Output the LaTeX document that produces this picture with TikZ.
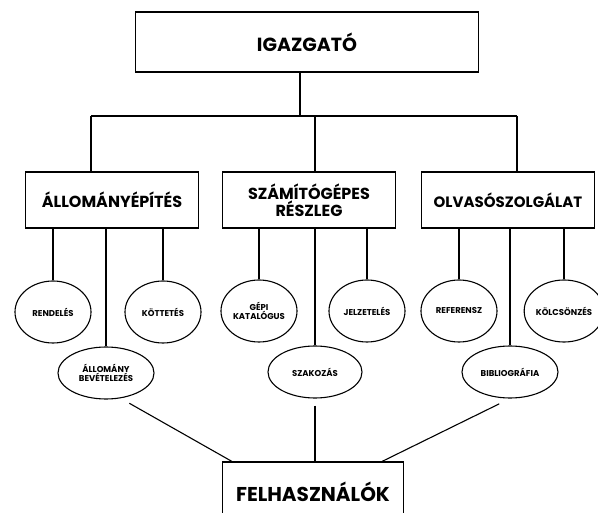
\documentclass[tikz,border=0pt]{standalone}
\usepackage{fontspec}
\setmainfont{Poppins}
\usepackage{tikz}
\usetikzlibrary{shapes.geometric}

\begin{document}
\begin{tikzpicture}[
    x=1pt, y=-1pt,
    line width=1.1pt,
    chief/.style={rectangle, draw, minimum width=343pt, minimum height=60pt, font=\bfseries\fontsize{19}{21}\selectfont},
    dept/.style={rectangle, draw, minimum width=173pt, minimum height=56pt, inner sep=2pt, align=center, font=\bfseries\fontsize{16}{15}\selectfont},
    task/.style={ellipse, draw, minimum width=76pt, minimum height=62pt, inner sep=0pt, align=center, font=\bfseries\fontsize{8.5}{8.5}\selectfont},
    lowtask/.style={task, minimum width=96pt, minimum height=52pt},
    link/.style={line width=1.1pt}
]
    \useasboundingbox (0,0) rectangle (598,513);

    % Nodes
    \node[chief] (igaz) at (307,42) {IGAZGATÓ};

    \node[dept] (allom) at (112,200) {ÁLLOMÁNYÉPÍTÉS};
    \node[dept] (szam) at (309,200) {SZÁMÍTÓGÉPES\\RÉSZLEG};
    \node[dept, font=\bfseries\fontsize{15}{15}\selectfont] (olv) at (508,200) {OLVASÓSZOLGÁLAT};

    \node[task] (rend) at (53,312) {RENDELÉS};
    \node[task] (kott) at (163,312) {KÖTTETÉS};
    \node[lowtask] (bev) at (106,373) {ÁLLOMÁNY\\BEVÉTELEZÉS};

    \node[task] (gepi) at (259,311) {GÉPI\\KATALÓGUS};
    \node[task] (jelz) at (367,311) {JELZETELÉS};
    \node[lowtask, minimum width=94pt] (szak) at (315,372) {SZAKOZÁS};

    \node[task] (ref) at (459,311) {REFERENSZ};
    \node[task, minimum width=70pt] (kolcs) at (564,311) {KÖLCSÖNZÉS};
    \node[lowtask] (bib) at (510,372) {BIBLIOGRÁFIA};

    \node[dept, minimum width=181pt, minimum height=60pt, font=\bfseries\fontsize{20}{22}\selectfont] (felh) at (313,492) {FELHASZNÁLÓK};

    % Tree lines
    \coordinate (hub) at (300,116);
    \coordinate (busL) at (91,116);
    \coordinate (busM) at (315,116);
    \coordinate (busR) at (517,116);
    \draw[link] (hub |- igaz.south) -- (hub);
    \draw[link] (busL) -- (busR);
    \draw[link] (busL) -- (busL |- allom.north);
    \draw[link] (busM) -- (busM |- szam.north);
    \draw[link] (busR) -- (busR |- olv.north);

    \foreach \t/\d in {rend/allom, kott/allom, bev/allom, gepi/szam, jelz/szam, szak/szam, ref/olv, kolcs/olv, bib/olv}
        \draw[link] (\t.north) -- (\t.north |- \d.south);

    % Users
    \draw[link, shorten <=10pt] (bev.-60) -- ([xshift=10pt]felh.north west);
    \draw[link, shorten <=7pt] (szak.south) -- (szak.south |- felh.north);
    \draw[link, shorten <=12pt] (bib.south) -- ([xshift=-22pt]felh.north east);
\end{tikzpicture}
\end{document}
